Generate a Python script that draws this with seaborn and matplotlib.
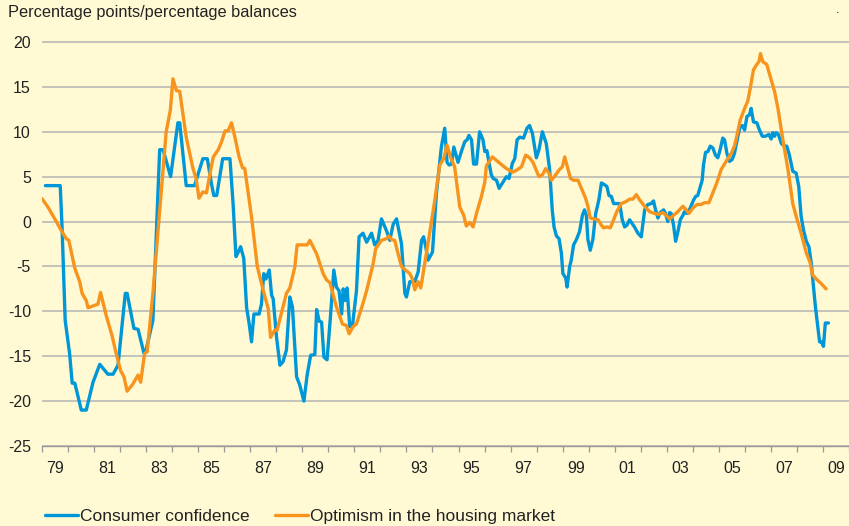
import matplotlib
matplotlib.use("Agg")
import matplotlib.pyplot as plt
import seaborn as sns
import pandas as pd

# consumer confidence, percentage balance (decimal year, value)
cc_year = [1979.13, 1979.70, 1979.77, 1979.89, 1980.06, 1980.16, 1980.26, 1980.51, 1980.70, 1980.96,
           1981.22, 1981.53, 1981.73, 1981.92, 1982.20, 1982.27, 1982.53, 1982.69, 1982.92, 1983.00,
           1983.26, 1983.52, 1983.65, 1983.94, 1984.22, 1984.29, 1984.54, 1984.86, 1985.18, 1985.35,
           1985.51, 1985.60, 1985.71, 1985.94, 1986.22, 1986.34, 1986.45, 1986.54, 1986.63, 1986.75,
           1986.86, 1986.96, 1987.05, 1987.14, 1987.34, 1987.43, 1987.52, 1987.60, 1987.73, 1987.82,
           1987.88, 1988.01, 1988.14, 1988.26, 1988.39, 1988.52, 1988.62, 1988.78, 1988.90, 1989.06,
           1989.19, 1989.32, 1989.48, 1989.55, 1989.65, 1989.74, 1989.83, 1989.95, 1990.08, 1990.21,
           1990.31, 1990.41, 1990.51, 1990.57, 1990.64, 1990.72, 1990.82, 1990.93, 1991.08, 1991.18,
           1991.33, 1991.47, 1991.66, 1991.78, 1991.91, 1992.04, 1992.23, 1992.36, 1992.49, 1992.62,
           1992.81, 1992.94, 1993.00, 1993.13, 1993.32, 1993.45, 1993.58, 1993.66, 1993.74, 1993.83,
           1994.00, 1994.15, 1994.34, 1994.47, 1994.56, 1994.64, 1994.73, 1994.82, 1994.98, 1995.11,
           1995.24, 1995.33, 1995.40, 1995.50, 1995.58, 1995.69, 1995.81, 1995.94, 1996.01, 1996.09,
           1996.20, 1996.26, 1996.33, 1996.46, 1996.56, 1996.69, 1996.84, 1996.94, 1997.07, 1997.16,
           1997.25, 1997.35, 1997.50, 1997.63, 1997.73, 1997.84, 1997.99, 1998.09, 1998.22, 1998.37,
           1998.50, 1998.60, 1998.67, 1998.76, 1998.86, 1998.95, 1999.01, 1999.12, 1999.17, 1999.27,
           1999.33, 1999.42, 1999.53, 1999.65, 1999.76, 1999.84, 1999.91, 1999.97, 2000.06, 2000.16,
           2000.27, 2000.39, 2000.49, 2000.61, 2000.70, 2000.78, 2000.87, 2000.96, 2001.19, 2001.29,
           2001.38, 2001.47, 2001.57, 2001.76, 2001.89, 2002.02, 2002.15, 2002.27, 2002.40, 2002.49,
           2002.57, 2002.66, 2002.75, 2002.88, 2002.95, 2003.04, 2003.11, 2003.17, 2003.26, 2003.34,
           2003.43, 2003.52, 2003.62, 2003.68, 2003.77, 2003.90, 2004.03, 2004.11, 2004.19, 2004.29,
           2004.36, 2004.41, 2004.49, 2004.58, 2004.67, 2004.77, 2004.87, 2004.96, 2005.05, 2005.15,
           2005.22, 2005.31, 2005.41, 2005.51, 2005.60, 2005.69, 2005.80, 2005.90, 2005.99, 2006.08,
           2006.18, 2006.24, 2006.33, 2006.46, 2006.56, 2006.67, 2006.79, 2006.92, 2007.01, 2007.07,
           2007.14, 2007.20, 2007.29, 2007.40, 2007.52, 2007.61, 2007.71, 2007.84, 2007.97, 2008.07,
           2008.16, 2008.25, 2008.36, 2008.46, 2008.55, 2008.61, 2008.71, 2008.80, 2008.87, 2008.94,
           2009.02, 2009.09, 2009.21]
cc_value = [4, 4, -0.6, -11, -14.7, -18, -18, -21, -21, -17.9,
            -15.9, -17, -17, -16, -8, -8, -11.9, -12, -14.7, -14.3,
            -11, 8, 8, 5, 11, 11, 4, 4, 7, 7,
            4.2, 2.9, 2.9, 7, 7, 2, -3.9, -3.4, -2.8, -4.1,
            -9.6, -11.4, -13.4, -10.3, -10.3, -9.2, -5.8, -6.4, -5.4, -8.2,
            -8.6, -12.9, -16, -15.6, -14.3, -8.4, -9.5, -17.3, -18.2, -20,
            -17, -14.9, -14.8, -9.8, -11.1, -11.2, -15.1, -15.4, -10.6, -5.4,
            -7.3, -7.7, -10.3, -7.5, -8.8, -7.4, -11.7, -11.5, -7.7, -1.7,
            -1.3, -2.3, -1.3, -2.6, -2.1, 0.3, -1.0, -2.1, -0.3, 0.3,
            -2.5, -8, -8.4, -6.7, -6.7, -5.6, -2.1, -1.7, -2.8, -4.3,
            -3.4, 3.1, 8.3, 10.4, 6.6, 6.3, 6.4, 8.3, 6.6, 7.8,
            8.9, 9.1, 9.6, 9.1, 6.4, 6.4, 10, 9.1, 7.8, 7.9,
            6.1, 5.2, 4.8, 4.6, 3.7, 4.3, 5.0, 4.8, 6.5, 7.0,
            9.1, 9.4, 9.3, 10.4, 10.7, 9.8, 7.1, 8.0, 10.0, 8.7,
            5.8, 1.3, -0.6, -1.6, -1.9, -3.5, -5.8, -6.3, -7.3, -5.0,
            -4.3, -2.6, -2.0, -1.1, 0.7, 1.3, 0.7, -2.0, -3.2, -2.0,
            0.9, 2.4, 4.3, 4.1, 3.9, 2.9, 2.8, 2.0, 2.0, 0.2,
            -0.6, -0.4, 0.2, -0.6, -1.3, -1.7, 1.3, 1.9, 2.0, 2.3,
            1.3, 0.4, 1.0, 1.3, 0.9, 0, 1.0, 0.9, -0.4, -2.2,
            -1.1, 0.2, 0.7, 1.1, 0.9, 1.5, 2.4, 2.8, 2.9, 3.9,
            4.6, 6.3, 7.7, 7.8, 8.4, 8.2, 7.4, 7.1, 8.0, 9.3,
            9.1, 7.6, 6.7, 6.9, 7.6, 8.9, 10.4, 10.7, 10.2, 11.7,
            11.9, 12.6, 11.1, 11.0, 10.2, 9.5, 9.5, 9.7, 9.2, 9.9,
            9.5, 9.9, 9.7, 8.7, 8.4, 8.4, 7.4, 5.6, 5.4, 3.9,
            0.6, -0.9, -2.2, -2.8, -4.6, -6.5, -9.5, -11.7, -13.4, -13.4,
            -13.9, -11.3, -11.3]

# optimism in the housing market, percentage balance
hm_year = [1979.00, 1979.23, 1979.55, 1979.74, 1979.93, 1980.03, 1980.26, 1980.45, 1980.54, 1980.70,
           1980.77, 1981.15, 1981.25, 1981.47, 1981.69, 1981.85, 1982.02, 1982.15, 1982.27, 1982.49,
           1982.69, 1982.79, 1982.94, 1983.04, 1983.26, 1983.45, 1983.65, 1983.77, 1983.93, 1984.03,
           1984.16, 1984.29, 1984.54, 1984.80, 1984.92, 1985.03, 1985.18, 1985.32, 1985.45, 1985.58,
           1985.77, 1985.90, 1986.03, 1986.15, 1986.28, 1986.41, 1986.57, 1986.70, 1986.79, 1987.05,
           1987.27, 1987.50, 1987.69, 1987.78, 1987.94, 1988.03, 1988.24, 1988.39, 1988.52, 1988.71,
           1988.80, 1989.03, 1989.19, 1989.29, 1989.55, 1989.80, 1989.93, 1990.06, 1990.31, 1990.54,
           1990.70, 1990.80, 1990.95, 1991.08, 1991.31, 1991.47, 1991.72, 1991.82, 1992.04, 1992.23,
           1992.33, 1992.42, 1992.55, 1992.68, 1992.81, 1993.00, 1993.13, 1993.23, 1993.32, 1993.45,
           1993.55, 1993.70, 1993.89, 1994.09, 1994.28, 1994.43, 1994.56, 1994.69, 1994.85, 1995.05,
           1995.20, 1995.30, 1995.43, 1995.56, 1995.69, 1995.88, 1996.01, 1996.07, 1996.30, 1996.46,
           1996.84, 1997.09, 1997.22, 1997.42, 1997.58, 1997.73, 1997.86, 1997.96, 1998.09, 1998.22,
           1998.35, 1998.47, 1998.57, 1998.73, 1998.88, 1998.99, 1999.08, 1999.20, 1999.30, 1999.42,
           1999.59, 1999.72, 1999.88, 1999.97, 2000.06, 2000.19, 2000.36, 2000.49, 2000.57, 2000.70,
           2000.83, 2000.96, 2001.08, 2001.25, 2001.42, 2001.57, 2001.70, 2001.83, 2001.96, 2002.15,
           2002.34, 2002.53, 2002.70, 2002.85, 2002.98, 2003.11, 2003.26, 2003.39, 2003.62, 2003.72,
           2003.85, 2004.00, 2004.16, 2004.32, 2004.45, 2004.62, 2004.77, 2004.92, 2005.09, 2005.28,
           2005.48, 2005.60, 2005.69, 2005.82, 2005.99, 2006.11, 2006.21, 2006.33, 2006.46, 2006.54,
           2006.60, 2006.69, 2006.84, 2006.97, 2007.14, 2007.27, 2007.46, 2007.65, 2007.84, 2007.97,
           2008.16, 2008.36, 2008.51, 2008.59, 2008.74, 2008.93, 2009.12]
hm_value = [2.55, 1.6, 0, -1.0, -1.9, -2.1, -5.2, -6.7, -8, -8.8,
            -9.6, -9.2, -7.9, -10.5, -12.7, -14.7, -16.6, -17.3, -18.9, -18.1,
            -17.1, -17.9, -14.7, -14.5, -8, -1.3, 5.7, 10, 12.4, 15.9,
            14.6, 14.5, 9.4, 5.9, 4.8, 2.6, 3.3, 3.2, 5.3, 7.2,
            8.0, 8.9, 10.1, 10.1, 11, 9.4, 7.2, 6.0, 5.9, 0.5,
            -5.0, -7.7, -9.7, -12.9, -12.1, -12.1, -9.7, -8, -7.4, -5.1,
            -2.6, -2.6, -2.6, -2.1, -3.6, -5.8, -6.5, -6.8, -9.5, -11.4,
            -11.6, -12.5, -11.7, -11.4, -9.3, -7.7, -4.7, -3.0, -2.1, -1.9,
            -1.6, -2.0, -2.1, -3.6, -5.0, -5.5, -5.8, -6.4, -7.6, -6.7,
            -7.4, -4.7, -1.3, 2.4, 6.3, 7.0, 8.5, 7.2, 6.1, 1.6,
            0.7, -0.5, -0.1, -0.6, 0.9, 2.8, 4.4, 6.2, 7.2, 6.8,
            5.9, 5.5, 5.7, 6.1, 7.4, 7.1, 6.6, 5.9, 5.0, 5.2,
            5.9, 5.4, 4.6, 5.2, 5.8, 6.1, 7.2, 5.9, 4.8, 4.6,
            4.6, 3.7, 2.6, 1.7, 0.4, 0.3, 0.2, -0.4, -0.7, -0.6,
            -0.7, 0.2, 1.1, 2.0, 2.2, 2.5, 2.5, 3.0, 2.4, 1.7,
            1.1, 0.9, 0.8, 1.0, 0.7, 0.3, 0.7, 1.0, 1.7, 1.4,
            0.9, 1.5, 1.9, 1.9, 2.1, 2.1, 3.2, 4.3, 5.8, 6.7,
            7.6, 8.4, 9.5, 11.3, 12.6, 13.4, 14.9, 16.9, 17.5, 17.8,
            18.7, 17.8, 17.5, 16.2, 14.5, 12.6, 9.1, 5.9, 2.0, 0.6,
            -1.3, -3.5, -4.6, -5.9, -6.4, -6.9, -7.5]

year_ticks = list(range(1979, 2011))
label_years = list(range(1979, 2010, 2))
year_labels = [f"{y % 100:02d}" for y in label_years]
y_ticks = list(range(-25, 21, 5))

bg = "#FFFAD4"
blue = "#0097D8"
orange = "#F7941D"
grid_col = "#B4B4B4"

sns.set_theme(style="white", rc={"axes.facecolor": bg, "figure.facecolor": bg})
plt.rcParams['font.family'] = ['Liberation Sans', 'DejaVu Sans']

cc = pd.DataFrame({"year": cc_year, "value": cc_value})
hm = pd.DataFrame({"year": hm_year, "value": hm_value})

fig = plt.figure(figsize=(8.49, 5.26), dpi=100)
ax = fig.add_axes([42 / 849, 80 / 526, 1 - 42 / 849, 408.5 / 526])

sns.lineplot(data=cc, x="year", y="value", color=blue, lw=2.4, estimator=None,
             label="Consumer confidence", ax=ax, zorder=3)
sns.lineplot(data=hm, x="year", y="value", color=orange, lw=2.4, estimator=None,
             label="Optimism in the housing market", ax=ax, zorder=4)

ax.set_xlim(1979, 2010)
ax.set_ylim(-25, 20.5)
ax.set_xlabel("")
ax.set_ylabel("")

# y axis: labels only, grey gridlines
ax.set_yticks(y_ticks)
ax.set_yticklabels([str(v) for v in y_ticks])
ax.yaxis.grid(True, color=grid_col, lw=1.1)
ax.tick_params(axis="y", length=0, pad=8, labelsize=11.5, colors="#222222")

# x axis: small ticks at each year, labels centred in odd years
ax.set_xticks(year_ticks)
ax.set_xticklabels([])
ax.set_xticks([y + 0.5 for y in label_years], minor=True)
ax.set_xticklabels(year_labels, minor=True)
ax.tick_params(axis="x", which="major", length=4, width=0.9, color="#999999", direction="out", bottom=True)
ax.tick_params(axis="x", which="minor", length=0, pad=11, labelsize=11.5, colors="#222222")

for s in ["top", "right", "left"]:
    ax.spines[s].set_visible(False)
ax.spines["bottom"].set_color("#999999")
ax.spines["bottom"].set_linewidth(1.0)

fig.text(8 / 849, 1 - 13 / 526, "Percentage points/percentage balances",
         fontsize=11.8, color="#222222", va="center", ha="left")
fig.text(836 / 849, 1 - 10 / 526, ".", fontsize=9, color="#222222", va="center")

ax.get_legend().remove()
handles, labels = ax.get_legend_handles_labels()
fig.legend(handles, labels, loc="lower left", bbox_to_anchor=(45 / 849, 0.004), ncol=2,
           frameon=False, fontsize=12.5, handlelength=1.9, handletextpad=0.1,
           columnspacing=1.5, borderpad=0, borderaxespad=0, labelcolor="#222222")

fig.savefig("out.png", dpi=100, facecolor=bg)
